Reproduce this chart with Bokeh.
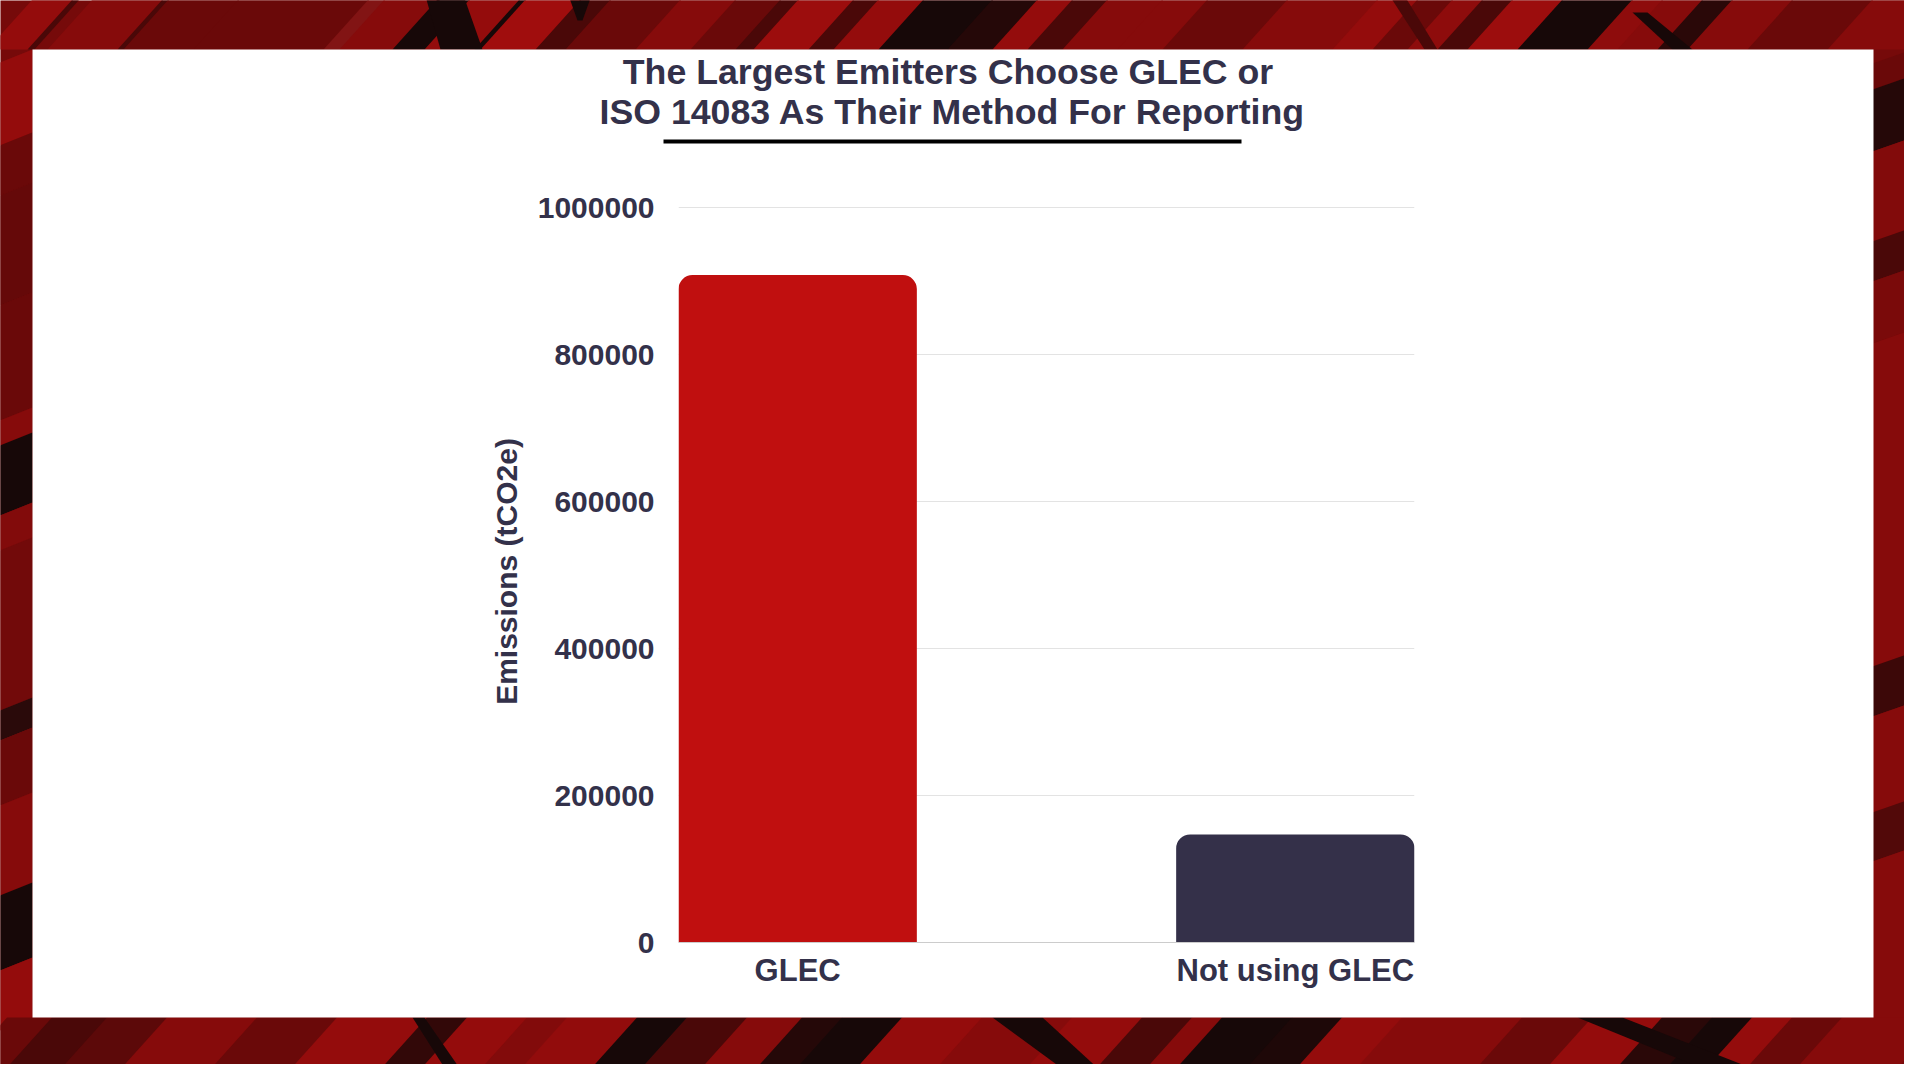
from bokeh.plotting import figure
from bokeh.layouts import column
from bokeh.models import FactorRange, Range1d, FixedTicker, BasicTickFormatter
from bokeh.core.properties import value
from bokeh.embed import file_html
from bokeh.resources import INLINE

categories = ["GLEC", "Not using GLEC"]
emissions = [908000, 147000]
bar_colors = ["#C00F0F", "#343049"]
y_ticks = [0, 200000, 400000, 600000, 800000, 1000000]
title_lines = ["The Largest Emitters Choose GLEC or", "ISO 14083 As Their Method For Reporting"]
y_label = "Emissions (tCO2e)"

INK = "#33314A"
FONT = "Liberation Sans"

# ---- backdrop figure: its data space is the reference's pixel space
bg = figure(width=1904, height=1064, output_backend="svg", toolbar_location=None,
            x_range=Range1d(8, 1912), y_range=Range1d(1072, 8),
            x_axis_type=None, y_axis_type=None, min_border=0, outline_line_color=None,
            background_fill_color="#760A0A", border_fill_color="#760A0A", frame_align=False)
bg.grid.visible = False

pxs, pys, pcs = [], [], []


def poly(xs, ys, color):
    pxs.append(xs)
    pys.append(ys)
    pcs.append(color)


def band(x_bottom, width, color, y0, y1, slant=0.9):
    d = (y1 - y0) * slant
    poly([x_bottom, x_bottom + width, x_bottom + width + d, x_bottom + d], [y1, y1, y0, y0], color)


B, R, M, D, K = "#940C0C", "#860B0B", "#6A0909", "#4A0808", "#170808"

left = [(57, 140, B), (140, 190, M), (190, 300, "#650909"), (300, 415, M), (415, 440, R), (440, 510, K),
        (510, 545, "#820B0B"), (545, 705, "#720A0A"), (705, 735, "#2A0A0A"), (735, 800, "#6A0909"), (800, 890, R),
        (890, 965, K), (965, 1025, B)]
for y0, y1, c in left:
    poly([0, 40, 40, 0], [y0 + 16, y0, y1, y1 + 16], c)

right = [(57, 83, M), (83, 145, "#250808"), (145, 235, "#820B0B"), (235, 275, "#4A0808"),
         (275, 337, "#7A0A0A"), (337, 660, R), (660, 710, "#3C0808"), (710, 806, "#860B0B"), (806, 855, "#520909"),
         (855, 1025, R), (1025, 1080, "#760A0A")]
for y0, y1, c in right:
    poly([1880, 1920, 1920, 1880], [y0 + 14, y0, y1, y1 + 14], c)

top = [(0, 40, B), (40, 6, D), (60, 70, R), (130, 6, D), (136, 70, M), (206, 130, M), (336, 16, "#821414"),
       (352, 55, R), (405, 32, K), (437, 50, B), (487, 6, K), (493, 55, "#A00D0D"), (548, 30, D),
       (578, 70, M), (648, 55, R), (703, 45, M), (748, 18, D), (766, 55, "#9C0D0D"),
       (821, 25, D), (846, 45, B), (891, 69, K), (960, 45, "#250808"), (1005, 35, B),
       (1040, 35, D), (1075, 55, R), (1130, 45, R), (1175, 80, M), (1255, 90, R),
       (1345, 40, B), (1385, 35, M), (1420, 30, "#8E0C0C"), (1450, 30, D), (1480, 50, "#9C0D0D"),
       (1530, 70, K), (1600, 30, "#8E0C0C"), (1630, 40, R), (1670, 30, "#2A0808"), (1700, 60, R), (1760, 80, M),
       (1840, 80, R)]
for x, w, c in top:
    band(x - 5, w + 1, c, 0, 57)
poly([432, 470, 490, 448], [0, 0, 57, 57], K)
poly([575, 600, 590, 585], [0, 0, 28, 28], K)
poly([1395, 1410, 1445, 1432], [0, 0, 57, 57], D)
poly([1640, 1655, 1700, 1680], [20, 20, 57, 57], K)

bottom = [(0, 45, M), (45, 55, D), (100, 60, "#5C0909"), (160, 90, R), (250, 80, M), (330, 90, B),
          (420, 40, "#320808"), (460, 60, B), (520, 40, "#820B0B"), (560, 70, "#920C0C"), (630, 50, K), (680, 60, D),
          (740, 55, R), (795, 40, "#250808"), (835, 60, K), (895, 80, B), (975, 90, R), (1065, 70, B),
          (1135, 50, D), (1185, 30, R), (1215, 70, K), (1285, 50, "#1E0808"), (1335, 60, B), (1395, 120, R),
          (1515, 70, M), (1585, 70, B), (1655, 50, "#2A0808"), (1705, 40, K), (1745, 40, B), (1785, 50, M),
          (1835, 100, R)]
for x, w, c in bottom:
    band(x - 35, w + 1, c, 1025, 1080)
poly([420, 432, 470, 455], [1025, 1025, 1080, 1080], K)
poly([1000, 1050, 1110, 1075], [1025, 1025, 1080, 1080], K)
poly([1585, 1630, 1770, 1720], [1025, 1025, 1080, 1080], K)

# white panel and the rule under the title
poly([40, 1881, 1881, 40], [57, 57, 1025, 1025], "#FFFFFF")
poly([671, 1249, 1249, 671], [147, 147, 151, 151], "#000000")
bg.patches(pxs, pys, fill_color=pcs, line_color=None)

bg.text(x=[955.5, 960], y=[79, 119], text=title_lines, text_align="center", text_baseline="alphabetic",
        text_font=value(FONT), text_font_style="bold", text_font_size=value("35.7px"), text_color=INK)

# ---- chart figure, laid transparently over the backdrop
p = figure(
    width=1040, height=830, output_backend="svg", toolbar_location=None,
    x_range=FactorRange(factors=categories, factor_padding=1.088, range_padding=0),
    y_range=Range1d(0, 1009524),
    min_border_left=286, min_border_right=18, min_border_top=28, min_border_bottom=60,
    border_fill_color=None, background_fill_color=None, outline_line_color=None, frame_align=False,
    styles={"position": "absolute", "left": "392px", "top": "172px"},
)
p.vbar(x=categories, top=emissions, bottom=0, width=1.0, fill_color=bar_colors, line_color=None,
       border_radius=(14, 14, 0, 0))

yax = p.yaxis[0]
yax.ticker = FixedTicker(ticks=y_ticks)
yax.formatter = BasicTickFormatter(use_scientific=False)
yax.axis_line_color = None
yax.major_tick_line_color = None
yax.minor_tick_line_color = None
yax.major_label_standoff = 18
yax.major_label_text_font = FONT
yax.major_label_text_font_style = "bold"
yax.major_label_text_font_size = "30px"
yax.major_label_text_color = INK
yax.axis_label = y_label
yax.axis_label_standoff = 12
yax.axis_label_text_font = FONT
yax.axis_label_text_font_style = "bold"
yax.axis_label_text_font_size = "30px"
yax.axis_label_text_color = INK

xax = p.xaxis[0]
xax.axis_line_color = "#CCCCCC"
xax.axis_line_width = 1
xax.major_tick_line_color = None
xax.minor_tick_line_color = None
xax.major_label_standoff = 4
xax.major_label_orientation = "horizontal"
xax.major_label_text_font = FONT
xax.major_label_text_font_style = "bold"
xax.major_label_text_font_size = "31px"
xax.major_label_text_color = INK

p.xgrid.visible = False
p.ygrid.grid_line_color = "#E3E3E3"
p.ygrid.grid_line_width = 1

open("out.html", "w").write(file_html(column(bg, p), INLINE))
